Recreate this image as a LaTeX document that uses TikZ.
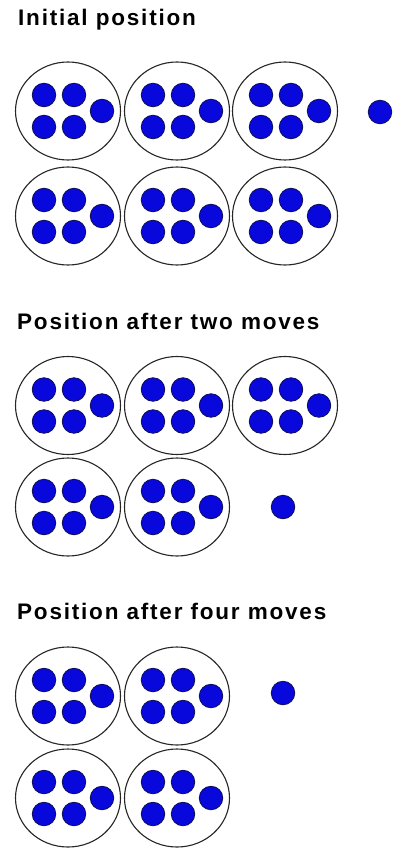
\documentclass[tikz,border=0pt]{standalone}
\usepackage{fontspec}
\setmainfont{Liberation Sans}
\newfontfamily\headfont{Liberation Sans}[LetterSpace=8]
\usetikzlibrary{shapes.geometric}
\definecolor{counter}{RGB}{8,8,220}
\definecolor{counterline}{RGB}{12,12,90}
\begin{document}
\begin{tikzpicture}[x=1pt,y=-1pt,
  grp/.style={ellipse,draw=black!85,line width=1.1pt,fill=white,minimum width=105pt,minimum height=98pt,inner sep=0pt},
  c/.style={circle,fill=counter,draw=counterline,line width=0.8pt,minimum size=23.5pt,inner sep=0pt},
  lab/.style={anchor=base west,font=\headfont\bfseries\fontsize{22.5}{24}\selectfont,inner sep=0pt}]
  \useasboundingbox (0,0) rectangle (392,848);
  % titles
  \node[lab] (h1) at (18,26) {Initial position};
  \node[lab] (h2) at (17,329) {Position after two moves};
  \node[lab] (h3) at (17,619) {Position after four moves};
  % groups of five: name/x/y
  \foreach \n/\x/\y in {i1/68/111,i2/177/111,i3/285/111,i4/68/216,i5/177/216,i6/285/216,
                        t1/68/405.5,t2/177/405.5,t3/285/405.5,t4/68/507,t5/177/507,
                        f1/68/696,f2/177/696,f3/68/798,f4/177/798} {
    \node[grp] (\n) at (\x,\y) {};
    \foreach \dx/\dy [count=\k] in {-24/-16,6/-16,-24/16,6/16,34/0}
      \node[c] (\n-\k) at (\x+\dx,\y+\dy) {};
  }
  % single counters left over
  \node[c] (i7) at (380,112) {};
  \node[c] (t6) at (283,507) {};
  \node[c] (f5) at (283,693) {};
\end{tikzpicture}
\end{document}
